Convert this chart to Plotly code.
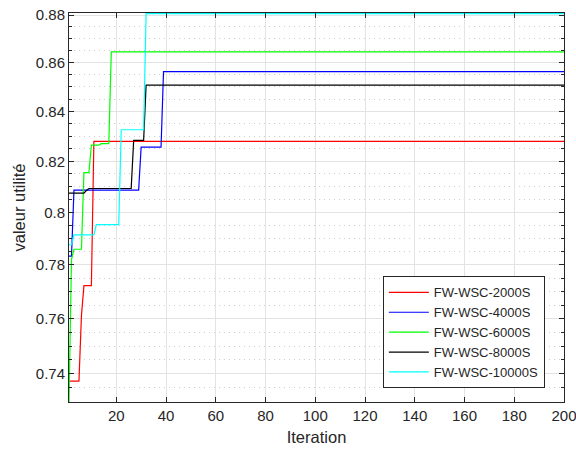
import math
import plotly.graph_objects as go

# ---- data ----
names = ["FW-WSC-2000S", "FW-WSC-4000S", "FW-WSC-6000S", "FW-WSC-8000S", "FW-WSC-10000S"]
colors = ["#ff0000", "#0000ff", "#00ff00", "#000000", "#00ffff"]

red_x = [1, 5, 6, 7, 10, 11, 200]
red_y = [0.7374, 0.7374, 0.761, 0.7722, 0.7722, 0.8279, 0.8279]

blue_x = [1, 2, 3, 29, 30, 38, 39, 200]
blue_y = [0.7833, 0.7833, 0.8087, 0.8087, 0.8256, 0.8256, 0.8563, 0.8563]

green_x = [1, 2, 3, 6, 7, 9, 10, 13, 14, 17, 18, 200]
green_y = [0.73, 0.782, 0.7859, 0.7859, 0.8155, 0.8155, 0.8264, 0.8264, 0.8270, 0.8270, 0.8645, 0.8645]

black_x = [1, 7, 8, 9, 26, 27, 31, 32, 200]
black_y = [0.8075, 0.8075, 0.8085, 0.8093, 0.8093, 0.8283, 0.8283, 0.8507, 0.8507]

cyan_x = [1, 2, 3, 11, 12, 21, 22, 31, 32, 200]
cyan_y = [0.7876, 0.7876, 0.7914, 0.7914, 0.7953, 0.7953, 0.8326, 0.8326, 0.8806, 0.8806]

x_ticks = [20, 40, 60, 80, 100, 120, 140, 160, 180, 200]
y_ticks = [0.74, 0.76, 0.78, 0.80, 0.82, 0.84, 0.86, 0.88]
y_tick_text = ["0.74", "0.76", "0.78", "0.8", "0.82", "0.84", "0.86", "0.88"]
y_minor = [0.735, 0.745, 0.75, 0.755, 0.765, 0.77, 0.775, 0.785, 0.79, 0.795,
           0.805, 0.81, 0.815, 0.825, 0.83, 0.835, 0.845, 0.85, 0.855,
           0.865, 0.87, 0.875]
x_range = [1, 200]
y_min, y_max = 0.73, 0.8809

series = [(red_x, red_y), (blue_x, blue_y), (green_x, green_y), (black_x, black_y), (cyan_x, cyan_y)]

fig = go.Figure()
for (xs, ys), name, col in zip(series, names, colors):
    fig.add_trace(go.Scatter(x=xs, y=ys, mode="lines", name=name,
                             line=dict(color=col, width=1.2)))

axis_col = "#262626"
font_fam = "Liberation Sans, Arial, sans-serif"

fig.update_layout(
    width=576, height=452,
    margin=dict(l=69, r=12, t=13, b=50),
    plot_bgcolor="white", paper_bgcolor="white",
    font=dict(family=font_fam, size=15, color=axis_col),
    showlegend=True,
    legend=dict(x=0.634, y=0.035, xanchor="left", yanchor="bottom",
                bgcolor="white", bordercolor=axis_col, borderwidth=1,
                font=dict(size=13, color=axis_col, family=font_fam),
                itemwidth=40),
)
fig.update_xaxes(
    range=x_range, tickvals=x_ticks, ticks="inside", ticklen=5,
    tickcolor=axis_col, showline=True, linecolor=axis_col, linewidth=1,
    mirror="ticks", showgrid=True, gridcolor="#e3e3e3", gridwidth=1,
    zeroline=False, automargin=False, ticklabeloverflow="allow",
    title=dict(text="Iteration", font=dict(size=16.5), standoff=8),
)
fig.update_yaxes(
    type="log", range=[math.log10(y_min), math.log10(y_max)],
    tickvals=y_ticks, ticktext=y_tick_text, ticks="inside", ticklen=5,
    tickcolor=axis_col, showline=True, linecolor=axis_col, linewidth=1,
    mirror="ticks", showgrid=True, gridcolor="#e3e3e3", gridwidth=1,
    zeroline=False, automargin=False, ticklabeloverflow="allow",
    title=dict(text="valeur utilité", font=dict(size=16.5), standoff=6),
    minor=dict(tickmode="array", tickvals=y_minor, ticks="inside", ticklen=3,
               tickcolor=axis_col, showgrid=True, gridcolor="#cdcdcd",
               griddash="1px,4px", gridwidth=1),
)

fig.write_html("out.html")
